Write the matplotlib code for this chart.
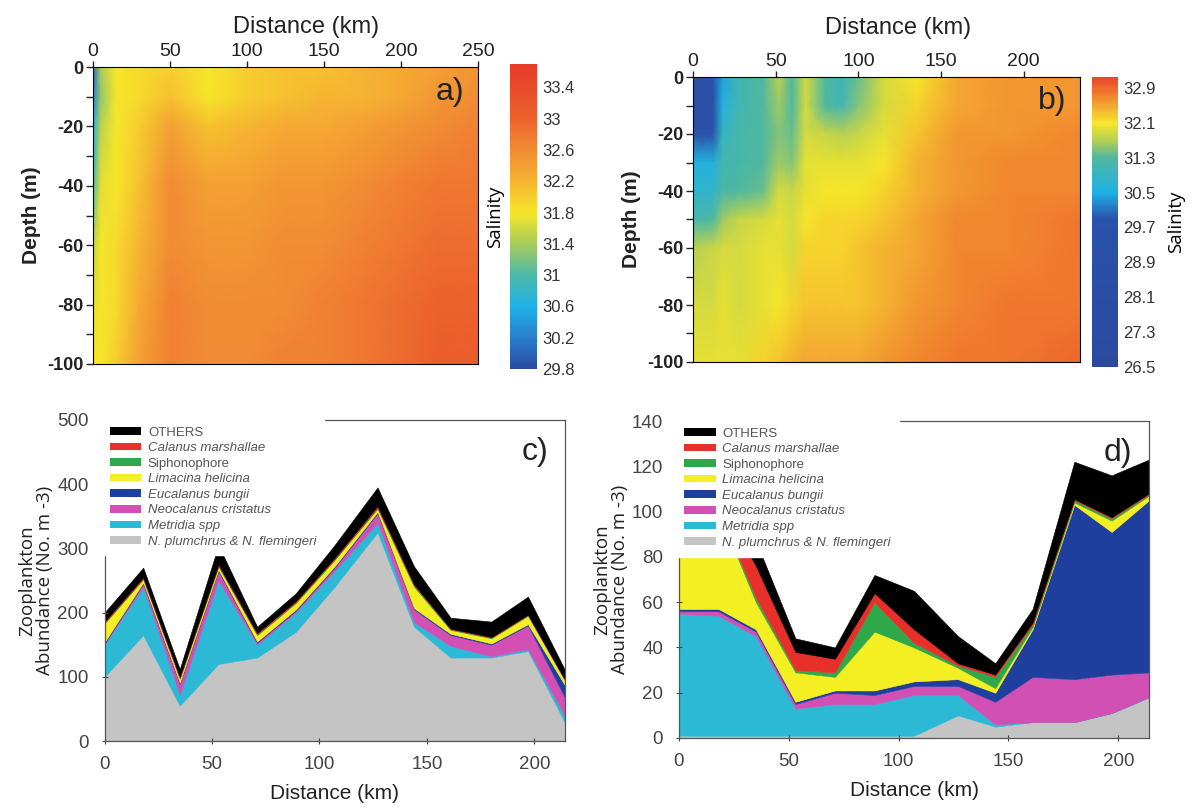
import numpy as np
import matplotlib
matplotlib.use("Agg")
import matplotlib.pyplot as plt
from matplotlib.colors import LinearSegmentedColormap
from matplotlib.patches import Patch

plt.rcParams['axes.unicode_minus'] = False
plt.rcParams['font.family'] = ['Liberation Sans', 'DejaVu Sans']

# ---- salinity sections ----
dist_a = [0, 5, 15, 30, 50, 75, 100, 125, 150, 175, 200, 225, 250]
depth_a = [0, -10, -20, -40, -60, -80, -100]
sal_a = [
    [30.0, 31.4, 31.8, 31.9, 32.0, 31.8, 32.0, 32.1, 32.1, 32.2, 32.3, 32.4, 32.5],
    [30.2, 31.3, 31.8, 31.9, 32.1, 31.8, 32.0, 32.1, 32.2, 32.2, 32.3, 32.5, 32.6],
    [30.6, 31.5, 31.8, 32.0, 32.4, 32.1, 32.2, 32.3, 32.3, 32.4, 32.5, 32.6, 32.7],
    [31.0, 31.7, 31.8, 32.1, 32.6, 32.4, 32.4, 32.5, 32.5, 32.6, 32.7, 32.8, 32.8],
    [31.5, 31.8, 31.9, 32.2, 32.6, 32.5, 32.5, 32.6, 32.6, 32.7, 32.8, 32.9, 32.9],
    [31.7, 31.8, 31.9, 32.3, 32.7, 32.6, 32.6, 32.6, 32.7, 32.8, 32.9, 33.0, 33.0],
    [31.8, 31.8, 32.0, 32.4, 32.7, 32.6, 32.6, 32.7, 32.7, 32.8, 32.9, 33.1, 33.1],
]

dist_b = [0, 12, 18, 28, 42, 52, 60, 68, 80, 90, 100, 115, 135, 160, 190, 234]
depth_b = [0, -10, -20, -30, -40, -50, -60, -80, -100]
sal_b = [
    [29.0, 29.0, 30.4, 31.1, 31.3, 31.7, 31.3, 31.9, 31.3, 31.0, 31.4, 31.9, 32.1, 32.5, 32.6, 32.6],
    [29.0, 29.0, 30.6, 31.1, 31.3, 31.6, 31.3, 31.9, 31.3, 31.1, 31.5, 31.9, 32.2, 32.5, 32.6, 32.6],
    [29.3, 29.3, 30.9, 31.2, 31.3, 31.5, 31.4, 31.9, 31.8, 31.7, 31.8, 32.0, 32.3, 32.6, 32.6, 32.7],
    [30.6, 30.6, 31.1, 31.2, 31.3, 31.6, 31.5, 32.0, 32.0, 32.0, 32.0, 32.1, 32.4, 32.6, 32.7, 32.7],
    [30.8, 30.8, 31.2, 31.3, 31.4, 31.9, 31.8, 32.0, 32.1, 32.1, 32.1, 32.2, 32.4, 32.6, 32.7, 32.7],
    [31.2, 31.3, 31.6, 31.8, 31.9, 32.0, 31.9, 32.1, 32.2, 32.2, 32.2, 32.3, 32.5, 32.7, 32.7, 32.8],
    [31.7, 31.8, 31.9, 31.9, 32.0, 32.0, 31.9, 32.2, 32.2, 32.2, 32.3, 32.4, 32.5, 32.7, 32.7, 32.8],
    [31.9, 31.9, 32.0, 31.9, 32.0, 32.1, 32.2, 32.3, 32.3, 32.3, 32.3, 32.4, 32.6, 32.7, 32.8, 32.8],
    [32.0, 32.0, 32.0, 32.0, 32.2, 32.3, 32.4, 32.5, 32.5, 32.5, 32.5, 32.6, 32.7, 32.8, 32.8, 32.9],
]

cbar_ticks_a = [29.8, 30.2, 30.6, 31.0, 31.4, 31.8, 32.2, 32.6, 33.0, 33.4]
cbar_ticks_b = [26.5, 27.3, 28.1, 28.9, 29.7, 30.5, 31.3, 32.1, 32.9]

# ---- zooplankton stacks (No. m-3), bottom to top ----
stations = [0, 18, 35, 53, 71, 89, 107, 127, 144, 161, 180, 197, 214]
species = ["N. plumchrus & N. flemingeri", "Metridia spp", "Neocalanus cristatus",
           "Eucalanus bungii", "Limacina helicina", "Siphonophore",
           "Calanus marshallae", "OTHERS"]

c_plumchrus = [100, 165, 55, 120, 130, 170, 240, 325, 178, 130, 130, 140, 30]
c_metridia = [50, 75, 17, 130, 20, 30, 25, 15, 7, 18, 2, 3, 10]
c_neocalanus = [2, 5, 17, 15, 3, 3, 5, 15, 20, 17, 18, 37, 29]
c_eucalanus = [2, 2, 2, 2, 2, 2, 2, 2, 2, 2, 2, 2, 19]
c_limacina = [29, 5, 6, 5, 10, 10, 10, 5, 33, 6, 8, 13, 7]
c_siphon = [1, 1, 1, 1, 1, 1, 1, 1, 2, 1, 1, 1, 1]
c_calanus = [2, 2, 2, 2, 2, 2, 2, 3, 2, 1, 1, 1, 1]
c_others = [14, 15, 12, 30, 10, 12, 20, 29, 28, 17, 24, 28, 15]

d_plumchrus = [1, 1, 1, 1, 1, 1, 1, 10, 5, 7, 7, 11, 18]
d_metridia = [54, 53, 44, 12, 14, 14, 18, 9, 1, 0, 0, 0, 0]
d_neocalanus = [1, 2, 2, 2, 5, 4, 4, 4, 10, 20, 19, 17, 11]
d_eucalanus = [1, 1, 1, 1, 1, 2, 2, 3, 4, 21, 77, 63, 76]
d_limacina = [33, 43, 12, 13, 6, 26, 15, 5, 2, 1, 1, 5, 2]
d_siphon = [1, 1, 2, 1, 2, 13, 2, 1, 5, 1, 1, 1, 0.5]
d_calanus = [3, 4, 14, 8, 6, 4, 6, 1, 1, 1, 0.5, 0.5, 0.5]
d_others = [6, 7, 11, 6, 5, 8, 17, 12, 5, 6, 16.5, 18.5, 15]

stack_colors = ['#c4c4c4', '#2cb9d6', '#d24fb4', '#1f3f9e', '#f4ef22',
                '#2ea84a', '#e8302a', '#000000']


def make_cmap(anchors, vmin, vmax):
    return LinearSegmentedColormap.from_list(
        'sal', [((v - vmin) / (vmax - vmin), c) for v, c in anchors])


vmin_a, vmax_a = 29.8, 33.7
cmap_a = make_cmap([(29.8, '#2a4aa0'), (30.2, '#2a7fce'), (30.6, '#1fb2e6'),
                    (31.0, '#4db8a8'), (31.4, '#a8cc5a'), (31.8, '#f6e62a'),
                    (32.2, '#f6b432'), (32.6, '#f18c34'), (33.0, '#ec622c'),
                    (33.7, '#e63a2a')], vmin_a, vmax_a)
vmin_b, vmax_b = 26.5, 33.15
cmap_b = make_cmap([(26.5, '#2a4aa0'), (29.9, '#2a52aa'), (30.5, '#1fb0e6'),
                    (31.3, '#4fb8a0'), (31.7, '#b5cf55'), (32.1, '#f6e62a'),
                    (32.5, '#f4a632'), (32.9, '#ee6a2c'), (33.15, '#e8452a')],
                   vmin_b, vmax_b)

fig = plt.figure(figsize=(11.94, 8.10), dpi=100)
W, H = 1194, 810


def px_axes(l, t, r, b):
    return fig.add_axes([l / W, 1 - b / H, (r - l) / W, (b - t) / H])


def section(ax, cax, dist, depth, sal, cmap, vmin, vmax, ticks, xmax, xt, tag,
            lab_left, xlab_xy):
    X, Y = np.meshgrid(dist, depth)
    m = ax.pcolormesh(X, Y, np.array(sal), cmap=cmap, vmin=vmin, vmax=vmax,
                      shading='gouraud')
    ax.set_xlim(0, xmax)
    ax.set_ylim(-100, 0)
    ax.xaxis.tick_top()
    ax.xaxis.set_label_position('top')
    ax.set_xticks(xt)
    ax.set_yticks([0, -20, -40, -60, -80, -100])
    ax.set_yticks([-10, -30, -50, -70, -90], minor=True)
    ax.tick_params(axis='x', labelsize=14, length=4, width=1, pad=1, colors='#222')
    ax.tick_params(axis='y', which='both', length=5, width=1, colors='#222', pad=2)
    for t in ax.get_yticklabels():
        t.set_fontsize(13)
        t.set_fontweight('bold')
    ax.set_xlabel('Distance (km)', fontsize=17, color='#222')
    ax.xaxis.set_label_coords(*xlab_xy)
    ax.set_ylabel('Depth (m)', fontsize=15, fontweight='bold', color='#222',
                  labelpad=4)
    ax.text(0.965, 0.915, tag, transform=ax.transAxes, ha='right', va='center',
            fontsize=23, color='#222')
    cb = fig.colorbar(m, cax=cax, ticks=ticks)
    cb.outline.set_visible(False)
    cb.ax.set_yticklabels(['%g' % t for t in ticks])
    cb.ax.tick_params(length=0, labelsize=12, colors='#333', pad=4)
    cb.set_label('Salinity', family=['Open Sans', 'DejaVu Sans'], fontsize=13.5,
                 labelpad=8 if not lab_left else 4)
    if lab_left:
        cb.ax.yaxis.set_label_position('left')
        cb.ax.yaxis.set_ticks_position('right')
    return m


ax_a = px_axes(93, 67, 478, 364)
cax_a = px_axes(510, 64, 537, 369)
section(ax_a, cax_a, dist_a, depth_a, sal_a, cmap_a, vmin_a, vmax_a, cbar_ticks_a,
        250, [0, 50, 100, 150, 200, 250], 'a)', True, (0.553, 1.115))

ax_b = px_axes(693, 77, 1080, 362)
cax_b = px_axes(1092, 77, 1118, 367)
section(ax_b, cax_b, dist_b, depth_b, sal_b, cmap_b, vmin_b, vmax_b, cbar_ticks_b,
        234, [0, 50, 100, 150, 200], 'b)', False, (0.53, 1.15))


def zoo(ax, layers, ymax, ystep, tag):
    polys = ax.stackplot(stations, *layers, colors=stack_colors)
    for p in polys:
        p.set_edgecolor(p.get_facecolor())
        p.set_linewidth(0.4)
    ax.set_xlim(0, 214)
    ax.set_ylim(0, ymax)
    ax.set_xticks([0, 50, 100, 150, 200])
    ax.set_yticks(np.arange(0, ymax + 1, ystep))
    ax.tick_params(direction='inout', length=5, width=0.8, labelsize=13.5,
                   colors='#444')
    ax.tick_params(axis='y', pad=9)
    ax.tick_params(axis='x', pad=8)
    for s in ax.spines.values():
        s.set_color('#555')
        s.set_linewidth(0.9)
    ax.set_xlabel('Distance (km)', fontsize=15, color='#222', labelpad=8)
    ax.set_ylabel('Zooplankton\nAbundance (No. m -3)', fontsize=13.5,
                  family=['Open Sans', 'DejaVu Sans'], color='#222',
                  linespacing=1.0, labelpad=2)
    handles = [Patch(facecolor=c, edgecolor='none') for c in stack_colors][::-1]
    leg = ax.legend(handles, species[::-1], loc='upper left',
                    bbox_to_anchor=(-0.006, 1.004), borderaxespad=0,
                    fontsize=9.5, handlelength=2.4, handleheight=0.5,
                    labelspacing=0.27, handletextpad=0.5, borderpad=0.6,
                    fancybox=False, framealpha=1, edgecolor='white')
    for t, name in zip(leg.get_texts(), species[::-1]):
        t.set_color('#555')
        if name not in ('OTHERS', 'Siphonophore'):
            t.set_fontstyle('italic')
    ax.text(0.965, 0.9, tag, transform=ax.transAxes, ha='right', va='center',
            fontsize=23, color='#222')


ax_c = px_axes(104.5, 420, 564.5, 741)
zoo(ax_c, [c_plumchrus, c_metridia, c_neocalanus, c_eucalanus, c_limacina,
           c_siphon, c_calanus, c_others], 500, 100, 'c)')

ax_d = px_axes(679, 421, 1149, 738)
zoo(ax_d, [d_plumchrus, d_metridia, d_neocalanus, d_eucalanus, d_limacina,
           d_siphon, d_calanus, d_others], 140, 20, 'd)')

fig.savefig('out.png', dpi=100)
